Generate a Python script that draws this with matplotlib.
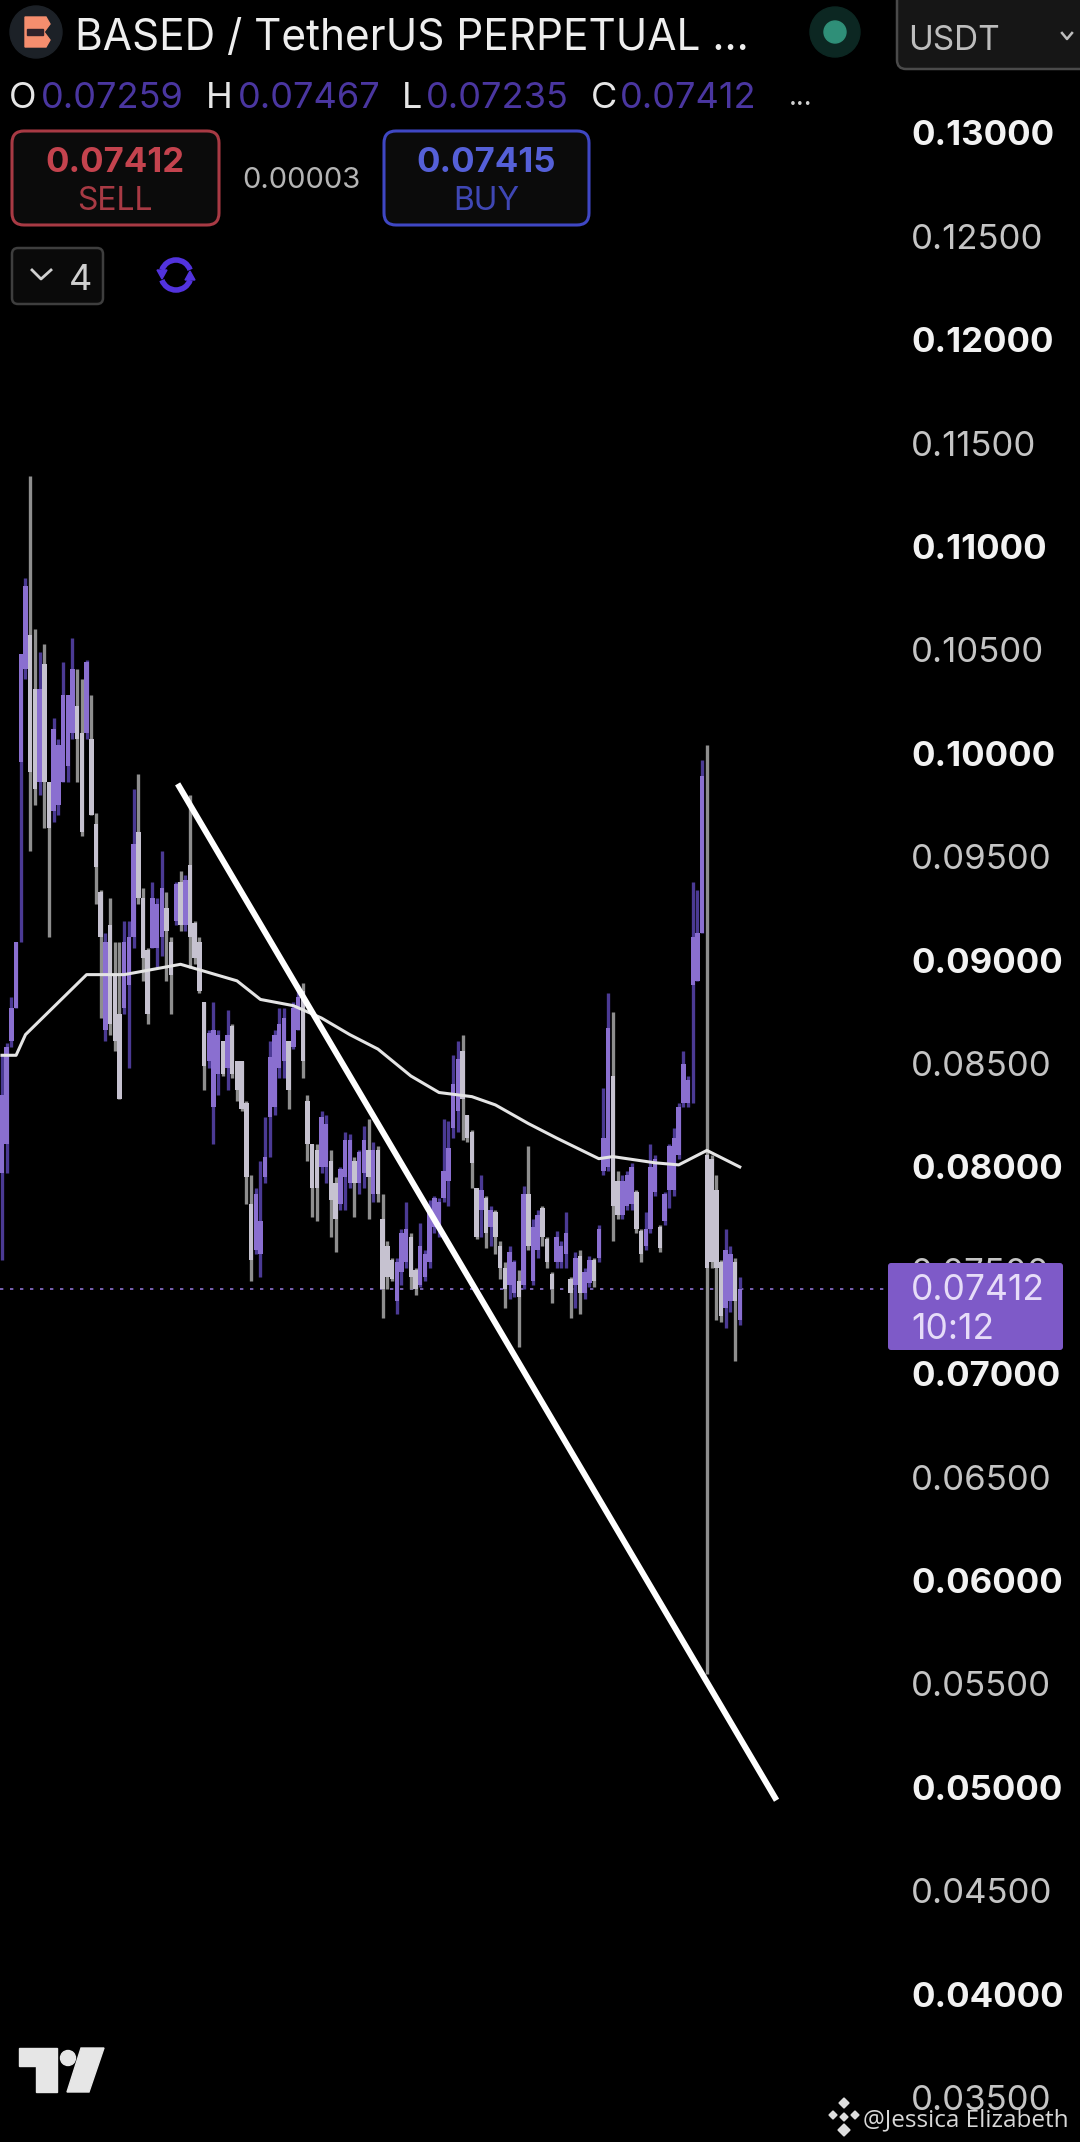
import matplotlib
matplotlib.use('Agg')
import matplotlib.pyplot as plt
from matplotlib.patches import Circle, FancyBboxPatch, Polygon, Rectangle, Arc
import numpy as np

plt.rcParams['font.family'] = ['Inter', 'DejaVu Sans']

# candle values
highs = [.0854,.0860,.0882,.0909,.1048,.1085,.1134,.1060,.1049,.1053,.0986,.1017,.1007,.1044,.1028,.1056,.1041,.1036,.1045,.1028,
         .0971,.0934,.0913,.0930,.0909,.0909,.0919,.0919,.0983,.0990,.0935,.0906,.0938,.0930,.0953,.0933,.0911,.0938,.0943,.0941,
         .0980,.0919,.0911,.0880,.0866,.0880,.0866,.0861,.0876,.0869,.0851,.0851,.0832,.0796,.0790,.0803,.0824,.0861,.0866,.0877,
         .0877,.0861,.0880,.0888,.0889,.0835,.0811,.0811,.0827,.0825,.0808,.0795,.0800,.0817,.0816,.0805,.0808,.0820,.0823,
         .0812,.0810,.0787,.0764,.0756,.0756,.0770,.0783,.0768,.0751,.0773,.0760,.0784,.0786,.0785,.0823,.0822,
         .0854,.0861,.0864,.0825,.0818,.0790,.0796,.0786,.0781,.0779,.0764,.0754,.0762,.0755,.0750,.0791,.0810,.0775,.0779,.0781,
         .0766,.0749,.0769,.0764,.0778,.0747,.0759,.0760,.0751,.0757,.0756,.0772,.0838,.0884,.0875,.0798,.0796,.0798,.0802,.0789,
         .0770,.0778,.0811,.0806,.0772,.0788,.0811,.0819,.0831,.0856,.0844,.0938,.0934,.0997,.1004,.0806,.0796,.0755,.0770,.0762,.0756,.07467]
lows = [.0755,.0797,.0858,.0877,.0909,.1036,.0953,.0975,.0980,.0964,.0911,.0967,.0970,.0986,.0986,.1007,.0986,.0960,.1007,.0970,
        .0927,.0872,.0861,.0864,.0856,.0833,.0874,.0848,.0906,.0927,.0890,.0869,.0906,.0896,.0902,.0890,.0874,.0917,.0914,.0914,
        .0896,.0898,.0884,.0837,.0848,.0811,.0835,.0844,.0837,.0843,.0832,.0827,.0782,.0745,.0758,.0747,.0792,.0805,.0825,.0843,
        .0843,.0828,.0857,.0866,.0843,.0803,.0776,.0774,.0797,.0792,.0766,.0759,.0779,.0779,.0790,.0776,.0787,.0790,.0775,
        .0783,.0783,.0727,.0741,.0745,.0729,.0743,.0751,.0741,.0738,.0742,.0745,.0751,.0768,.0766,.0783,.0781,
        .0814,.0817,.0813,.0812,.0790,.0765,.0766,.0761,.0762,.0758,.0746,.0732,.0736,.0737,.0713,.0741,.0760,.0743,.0756,.0762,
        .0751,.0734,.0751,.0751,.0751,.0727,.0732,.0729,.0736,.0742,.0742,.0754,.0796,.0798,.0764,.0775,.0775,.0779,.0779,.0768,
        .0754,.0760,.0768,.0786,.0759,.0772,.0780,.0786,.0804,.0829,.0829,.0831,.0890,.0913,.0555,.0751,.0726,.0725,.0722,.0730,.0706,.07235]
opens = [.0797,.0811,.0861,.0877,.0996,.1041,.1057,.1031,.0986,.1043,.0986,.0972,.0975,.0986,.0994,.1010,.1023,.1010,.1010,.1007,
         .0966,.0933,.0866,.0917,.0893,.0874,.0877,.0888,.0911,.0962,.0930,.0905,.0906,.0906,.0911,.0925,.0909,.0919,.0938,.0917,
         .0946,.0918,.0909,.0880,.0851,.0829,.0845,.0861,.0848,.0868,.0851,.0851,.0831,.0782,.0760,.0758,.0795,.0824,.0829,.0848,
         .0851,.0861,.0858,.0866,.0885,.0832,.0811,.0808,.0800,.0800,.0803,.0792,.0782,.0795,.0792,.0803,.0792,.0797,.0808,
         .0787,.0808,.0775,.0762,.0755,.0735,.0749,.0754,.0766,.0750,.0743,.0747,.0754,.0771,.0770,.0785,.0793,
         .0819,.0827,.0856,.0825,.0817,.0790,.0779,.0785,.0771,.0778,.0762,.0751,.0743,.0739,.0745,.0743,.0787,.0745,.0760,.0780,
         .0765,.0748,.0754,.0754,.0758,.0746,.0743,.0757,.0739,.0744,.0755,.0756,.0798,.0800,.0844,.0793,.0777,.0781,.0782,.0788,
         .0769,.0762,.0770,.0788,.0771,.0774,.0789,.0789,.0806,.0831,.0831,.0888,.0890,.0913,.0806,.0804,.0789,.0754,.0732,.0735,.0754,.07259]
closes = [.0835,.0858,.0877,.0909,.1048,.1081,.0991,.0983,.1031,.0986,.0964,.1012,.1004,.1028,.1028,.1041,.1007,.0962,.1044,.0970,
          .0945,.0911,.0909,.0869,.0861,.0833,.0909,.0911,.0956,.0930,.0901,.0874,.0930,.0927,.0935,.0914,.0893,.0937,.0917,.0939,
          .0911,.0901,.0885,.0849,.0865,.0866,.0864,.0845,.0864,.0845,.0837,.0828,.0795,.0755,.0787,.0774,.0805,.0853,.0864,.0869,
          .0872,.0837,.0877,.0882,.0851,.0811,.0790,.0790,.0824,.0821,.0784,.0775,.0799,.0813,.0813,.0792,.0807,.0813,.0795,
          .0808,.0787,.0741,.0747,.0746,.0754,.0768,.0770,.0747,.0741,.0762,.0758,.0778,.0785,.0783,.0798,.0809,
          .0840,.0852,.0833,.0814,.0802,.0766,.0789,.0768,.0779,.0766,.0751,.0741,.0759,.0754,.0737,.0787,.0762,.0771,.0777,.0766,
          .0754,.0741,.0766,.0762,.0768,.0739,.0756,.0739,.0749,.0755,.0745,.0770,.0814,.0867,.0781,.0777,.0793,.0796,.0800,.0770,
          .0758,.0770,.0800,.0804,.0761,.0787,.0810,.0814,.0829,.0850,.0842,.0911,.0913,.0989,.0751,.0754,.0751,.0728,.0760,.0758,.0735,.07412]

# moving average, index and price pairs
ma_idx = [0, 3, 5, 18, 26, 38, 50, 55, 62, 68, 74, 80, 87, 93, 100, 105, 112, 118, 127, 130, 139, 144, 150, 157]
ma_val = [.0854, .0854, .0864, .0893, .0893, .0898, .0890, .0881, .0878, .0872, .0864, .0857,
          .0844, .0836, .0834, .0830, .0821, .0814, .0804, .0805, .0802, .0801, .0808, .0800]

trend_idx = [37.7, 164.5]
trend_val = [.0984, .0495]

last_price = 0.07412
ticks = [.130, .125, .120, .115, .110, .105, .100, .095, .090, .085, .080, .075, .070, .065,
         .060, .055, .050, .045, .040, .035]
tick_bold = [True, False] * 10

UP_BODY = '#8a6fd0'
UP_WICK = '#4b3a94'
DOWN_BODY = '#c6c2d0'
DOWN_WICK = '#8e8e8e'

fig = plt.figure(figsize=(10.8, 21.42), dpi=100, facecolor='black')
ax = fig.add_axes([0, 0, 1, 1], facecolor='black')
ax.set_xlim(-0.4255, 229.4)
ax.set_ylim(0.03285, 0.13643)
ax.axis('off')

x = np.arange(len(highs))
o, h, l, c = map(np.array, (opens, highs, lows, closes))
up = c >= o

ax.axhline(last_price, xmax=0.82, color='#8d72d2', lw=1.2, ls=(0, (2, 4)), zorder=1)
ax.vlines(x[~up], l[~up], h[~up], color=DOWN_WICK, lw=2.4, zorder=2)
ax.vlines(x[up], l[up], h[up], color=UP_WICK, lw=2.4, zorder=2)
ax.bar(x[~up], (o - c)[~up], bottom=c[~up], width=0.95, color=DOWN_BODY, zorder=3)
ax.bar(x[up], (c - o)[up], bottom=o[up], width=0.95, color=UP_BODY, zorder=3)
ax.plot(ma_idx, ma_val, color='#e4e4e4', lw=2.2, zorder=4, solid_joinstyle='round')
ax.plot(trend_idx, trend_val, color='white', lw=4.3, zorder=5)

# price labels on the right
for t, b in zip(ticks, tick_bold):
    ax.text(911 / 1080, t, f'{t:.5f}', transform=ax.get_yaxis_transform(), va='center_baseline', ha='left',
            color='#f2f2f2' if b else '#c4c4c4', fontsize=25, fontweight='bold' if b else 'normal', zorder=6)

# toolbar and overlays drawn in pixel coordinates
ui = fig.add_axes([0, 0, 1, 1], facecolor='none')
ui.set_xlim(0, 1080)
ui.set_ylim(2142, 0)
ui.axis('off')

# coin logo
ui.add_patch(Circle((36, 32), 26, color='#1c2127'))
ui.add_patch(Polygon([(25, 17), (46, 17), (50, 24), (44, 32), (50, 40), (46, 47), (25, 47)], color='#f58e6e'))
ui.add_patch(Rectangle((27, 29), 16, 6, color='#30222a'))
ui.text(75, 34, 'BASED / TetherUS PERPETUAL ...', color='#eeeeee', fontsize=30.5, va='center_baseline', ha='left')

ui.add_patch(Circle((835, 32), 25, color='#0c2722'))
ui.add_patch(Circle((835, 32), 11, color='#2f8f78'))

ui.add_patch(FancyBboxPatch((897, -10), 203, 79, boxstyle='round,pad=0,rounding_size=9',
                            fc='#161616', ec='#4a4a4a', lw=1.8))
ui.text(908, 37, 'USDT', color='#bdbdbd', fontsize=24, va='center_baseline', ha='left')
ui.plot([1062, 1067, 1072], [33, 39, 33], color='#bdbdbd', lw=1.8)

# O H L C row
for letter, lx, val, vx in [('O', 9, '0.07259', 41), ('H', 206, '0.07467', 238),
                            ('L', 402, '0.07235', 426), ('C', 591, '0.07412', 620)]:
    ui.text(lx, 95, letter, color='#e6e6e6', fontsize=26, va='center_baseline', ha='left')
    ui.text(vx, 95, val, color='#4a36a0', fontsize=26, va='center_baseline', ha='left')
ui.text(789, 95, '...', color='#d0d0d0', fontsize=20, va='center_baseline', ha='left')

# sell and buy buttons
ui.add_patch(FancyBboxPatch((12, 131), 207, 94, boxstyle='round,pad=0,rounding_size=12',
                            fc='#0b0b0b', ec='#a83a44', lw=2.2))
ui.text(115, 159, '0.07412', color='#c4434e', fontsize=25, fontweight='bold', va='center_baseline', ha='center')
ui.text(115, 198, 'SELL', color='#a83a44', fontsize=23, va='center_baseline', ha='center')
ui.text(301, 178, '0.00003', color='#b5b5b5', fontsize=21, va='center_baseline', ha='center')
ui.add_patch(FancyBboxPatch((384, 131), 205, 94, boxstyle='round,pad=0,rounding_size=12',
                            fc='#0b0b0b', ec='#3f47c4', lw=2.2))
ui.text(486, 159, '0.07415', color='#5560d8', fontsize=25, fontweight='bold', va='center_baseline', ha='center')
ui.text(486, 198, 'BUY', color='#3f47b4', fontsize=23, va='center_baseline', ha='center')

# collapsed indicators box and refresh icon
ui.add_patch(FancyBboxPatch((12, 248), 91, 56, boxstyle='round,pad=0,rounding_size=6',
                            fc='#0a0a0a', ec='#3e3e3e', lw=1.8))
ui.plot([32, 41, 51], [270, 279, 270], color='#d0d0d0', lw=2)
ui.text(69, 277, '4', color='#cfcfcf', fontsize=26, va='center_baseline', ha='left')
ui.add_patch(Arc((176, 275), 30, 30, theta1=200, theta2=340, color='#5233dd', lw=4))
ui.add_patch(Arc((176, 275), 30, 30, theta1=20, theta2=160, color='#5233dd', lw=4))
ui.add_patch(Polygon([(157, 270), (167, 270), (162, 279)], color='#5233dd'))
ui.add_patch(Polygon([(185, 280), (195, 280), (190, 271)], color='#5233dd'))

# price tag
ui.add_patch(FancyBboxPatch((888, 1263), 175, 87, boxstyle='round,pad=0,rounding_size=3',
                            fc='#7e5ac8', ec='none', zorder=8))
ui.text(911, 1287, '0.07412', color='#e6dcf8', fontsize=25.5, va='center_baseline', ha='left', zorder=9)
ui.text(911, 1326, '10:12', color='#e6dcf8', fontsize=25.5, va='center_baseline', ha='left', zorder=9)

# tradingview mark
ui.add_patch(Polygon([(19, 2048), (57, 2048), (57, 2092), (36, 2092), (36, 2066), (19, 2066)], color='#e6e6e6'))
ui.add_patch(Circle((68, 2058), 7.5, color='#e6e6e6'))
ui.add_patch(Polygon([(81, 2048), (104, 2048), (89, 2092), (67, 2092)], color='#e6e6e6'))

# watermark
for dx, dy, r in [(0, -13, 5), (-11, -1, 4), (11, -1, 4), (0, 1, 4), (0, 14, 6)]:
    ui.add_patch(Polygon([(844 + dx, 2116 + dy - r), (844 + dx + r, 2116 + dy),
                          (844 + dx, 2116 + dy + r), (844 + dx - r, 2116 + dy)], color='#dddddd', zorder=10))
ui.text(863, 2117, '@Jessica Elizabeth', color='#d8d8d8', fontsize=17.5, va='center_baseline', ha='left',
        family=['Open Sans', 'DejaVu Sans'], zorder=10)

fig.savefig('out.png', dpi=100, facecolor='black')
